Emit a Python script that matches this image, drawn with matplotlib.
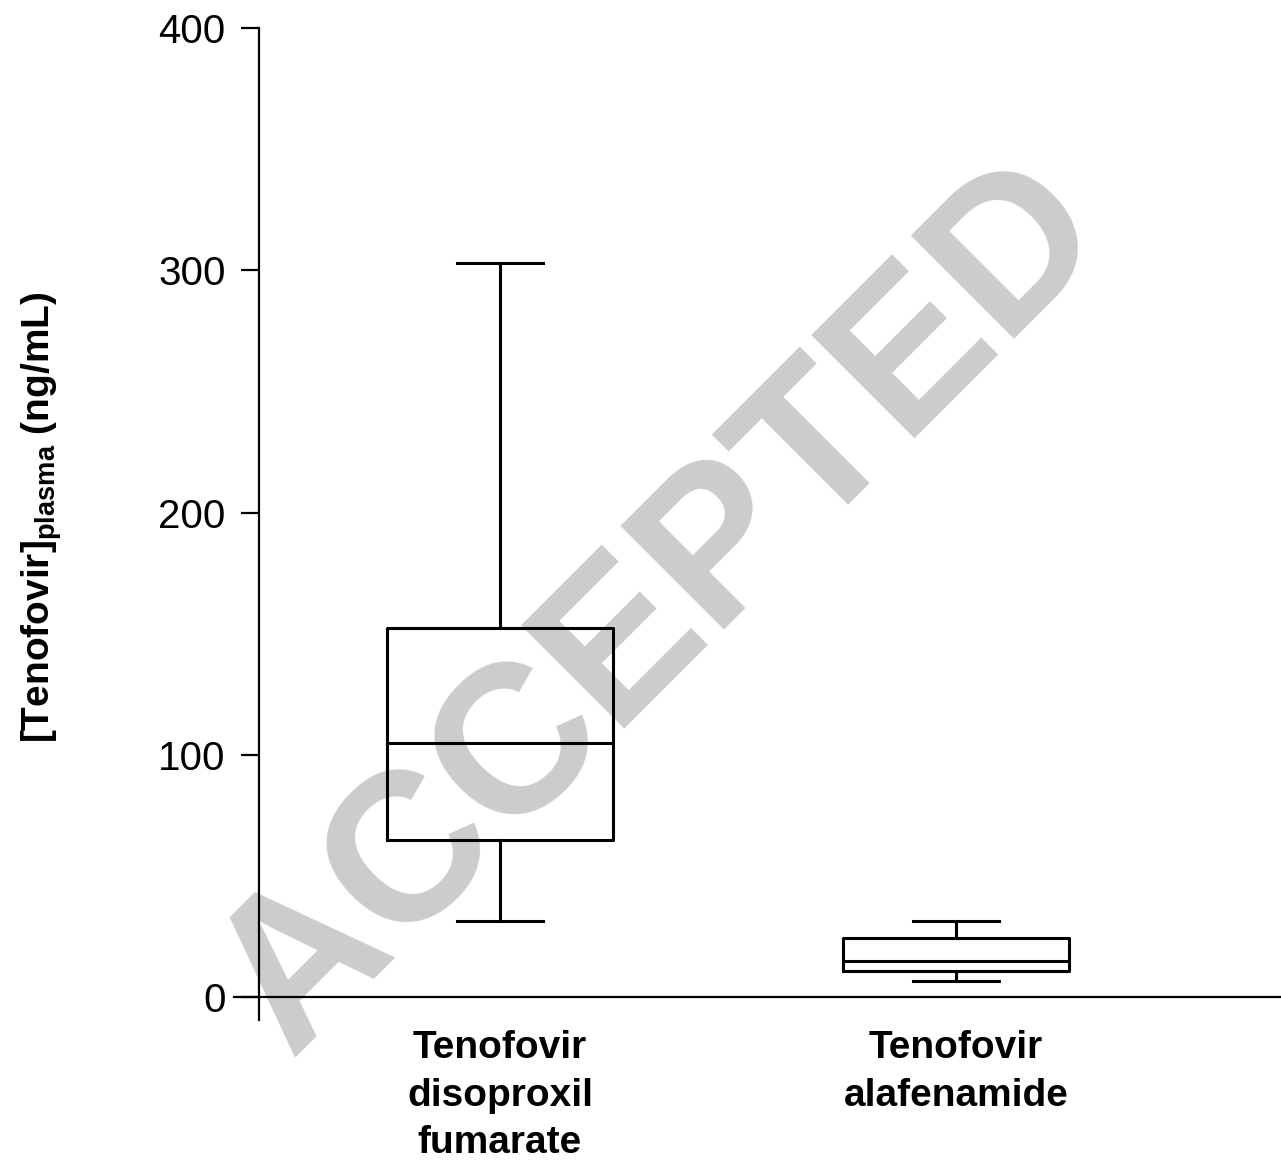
import matplotlib
matplotlib.use("Agg")
import matplotlib.pyplot as plt

plt.rcParams['font.family'] = ['Liberation Sans', 'DejaVu Sans']
plt.rcParams['mathtext.fontset'] = 'custom'
plt.rcParams['mathtext.rm'] = 'Liberation Sans'
plt.rcParams['mathtext.bf'] = 'Liberation Sans:bold'

# box summary per formulation (ng/mL)
groups = ["Tenofovir\ndisoproxil\nfumarate", "Tenofovir\nalafenamide"]
whisker_low = [31.4, 6.6]
q1 = [64.8, 10.7]
median = [104.9, 14.9]
q3 = [152.3, 24.4]
whisker_high = [303.0, 31.4]

stats = []
for i in range(len(groups)):
    stats.append({
        "whislo": whisker_low[i], "q1": q1[i], "med": median[i],
        "q3": q3[i], "whishi": whisker_high[i], "fliers": [],
    })

fig = plt.figure(figsize=(12.81, 11.63), dpi=100)
ax = fig.add_axes([234 / 1281, 1 - 1020 / 1163, 1 - 234 / 1281, (1020 - 28) / 1163])

lw = 2.2
line = dict(color="black", linewidth=lw)
ax.bxp(stats, positions=[1, 2], widths=0.4956, capwidths=0.19,
       showfliers=False, boxprops=line, medianprops=line,
       whiskerprops=line, capprops=line, zorder=3)

ax.set_xlim(0.4167, 2.7127)
ax.set_ylim(-9.49, 400)

# y axis sits inside the plot, x axis runs along zero
ax.spines['left'].set_position(('data', 0.4715))
ax.spines['bottom'].set_position(('data', 0))
ax.spines['top'].set_visible(False)
ax.spines['right'].set_visible(False)
ax.spines['left'].set_linewidth(1.6)
ax.spines['bottom'].set_linewidth(1.6)

ax.set_yticks([0, 100, 200, 300, 400])
ax.tick_params(axis='y', length=13, width=1.6, pad=11, labelsize=29)
ax.set_xticks([1, 2])
ax.set_xticklabels(groups, fontsize=28, fontweight='bold', linespacing=1.41)
ax.tick_params(axis='x', length=0, pad=24)

fig.text(42 / 1281, 1 - 517 / 1163,
         r'$\mathbf{[Tenofovir]_{plasma}}$ $\mathbf{(ng/mL)}$',
         rotation=90, ha='center', va='center', fontsize=28)

# watermark
fig.text(662 / 1281, 1 - 608 / 1163, "ACCEPTED", rotation=45,
         ha='center', va='center', fontsize=152, fontweight='bold',
         color='#cccccc', zorder=0)
ax.set_zorder(1)
ax.patch.set_alpha(0)

fig.savefig("out.png", dpi=100)
